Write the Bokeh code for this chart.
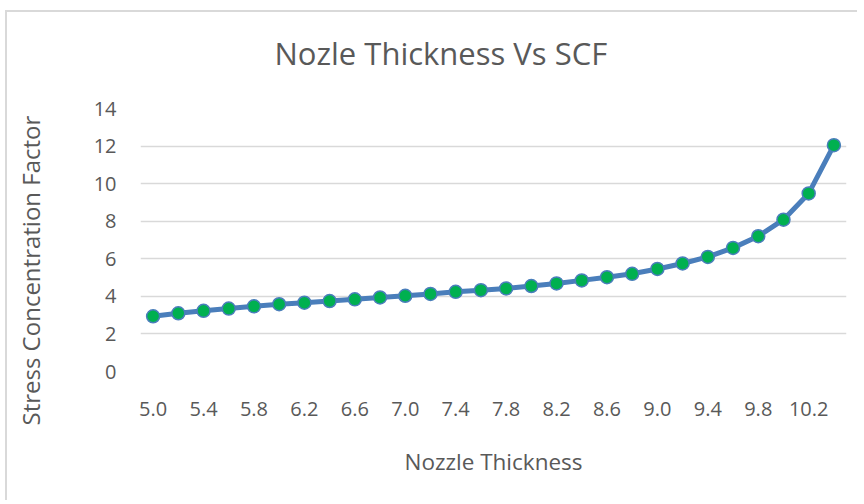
from bokeh.plotting import figure
from bokeh.models import Range1d, FixedTicker, Title
from bokeh.embed import file_html
from bokeh.resources import INLINE

# Data
thickness = ["5.0", "5.2", "5.4", "5.6", "5.8", "6.0", "6.2", "6.4", "6.6", "6.8",
             "7.0", "7.2", "7.4", "7.6", "7.8", "8.0", "8.2", "8.4", "8.6", "8.8",
             "9.0", "9.2", "9.4", "9.6", "9.8", "10.0", "10.2", "10.4"]
scf = [2.94, 3.10, 3.23, 3.35, 3.47, 3.58, 3.66, 3.75, 3.84, 3.94,
       4.03, 4.13, 4.24, 4.33, 4.42, 4.55, 4.69, 4.85, 5.02, 5.20,
       5.46, 5.75, 6.10, 6.58, 7.20, 8.08, 9.48, 12.05]
y_ticks = [0, 2, 4, 6, 8, 10, 12, 14]
title_text = "Nozle Thickness Vs SCF"
x_title = "Nozzle Thickness"
y_title = "Stress Concentration Factor"

idx = list(range(len(thickness)))
label_idx = idx[::2]

FONT = "Open Sans"
GRAY = "#595959"

p = figure(width=852, height=490, output_backend="svg", toolbar_location=None,
           x_range=Range1d(-0.5, len(thickness) - 0.5), y_range=Range1d(0, 14),
           min_border_left=133, min_border_right=13, min_border_top=96, min_border_bottom=131)
p.styles = {"margin-left": "5px", "margin-top": "10px",
            "border-left": "2px solid #d9d9d9", "border-top": "2px solid #d9d9d9"}
p.outline_line_color = None
p.background_fill_color = "white"
p.border_fill_color = "white"

p.xgrid.grid_line_color = None
p.ygrid.grid_line_color = "#d9d9d9"
p.ygrid.grid_line_width = 1.3

p.xaxis.ticker = FixedTicker(ticks=label_idx)
p.xaxis.major_label_overrides = {i: thickness[i] for i in label_idx}
p.yaxis.ticker = FixedTicker(ticks=y_ticks)

for ax in (p.xaxis[0], p.yaxis[0]):
    ax.axis_line_color = None
    ax.major_tick_line_color = None
    ax.minor_tick_line_color = None
    ax.major_tick_out = 0
    ax.minor_tick_out = 0
    ax.major_label_text_font = FONT
    ax.major_label_text_font_size = "20px"
    ax.major_label_text_color = GRAY

p.xaxis.axis_label = x_title
p.xaxis.axis_label_text_font = FONT
p.xaxis.axis_label_text_font_size = "22.5px"
p.xaxis.axis_label_text_color = GRAY
p.xaxis.axis_label_text_font_style = "normal"
p.xaxis.major_label_standoff = 30
p.xaxis.axis_label_standoff = 27
p.yaxis.major_label_standoff = 24

p.line(idx, scf, line_width=5, line_color="#4a7ebb", line_join="round")
p.scatter(idx, scf, size=13, fill_color="#00b050", line_color="#4a7ebb", line_width=1.5)

# y-axis title: spacer panel next to the axis, then the rotated title
p.add_layout(Title(text=" ", text_font_size="1px", standoff=40), "left")
p.add_layout(Title(text=y_title, align="left", offset=-54, vertical_align="middle",
                   standoff=0, text_font=FONT, text_font_size="24px",
                   text_font_style="normal", text_color=GRAY), "left")

# spacer panel between frame and title, then the chart title above it
p.add_layout(Title(text=" ", text_font_size="1px", standoff=30), "above")
p.add_layout(Title(text=title_text, align="left", offset=134, vertical_align="top",
                   standoff=0, text_font=FONT, text_font_size="31px",
                   text_font_style="normal", text_color=GRAY), "above")

open("out.html", "w").write(file_html(p, INLINE))
